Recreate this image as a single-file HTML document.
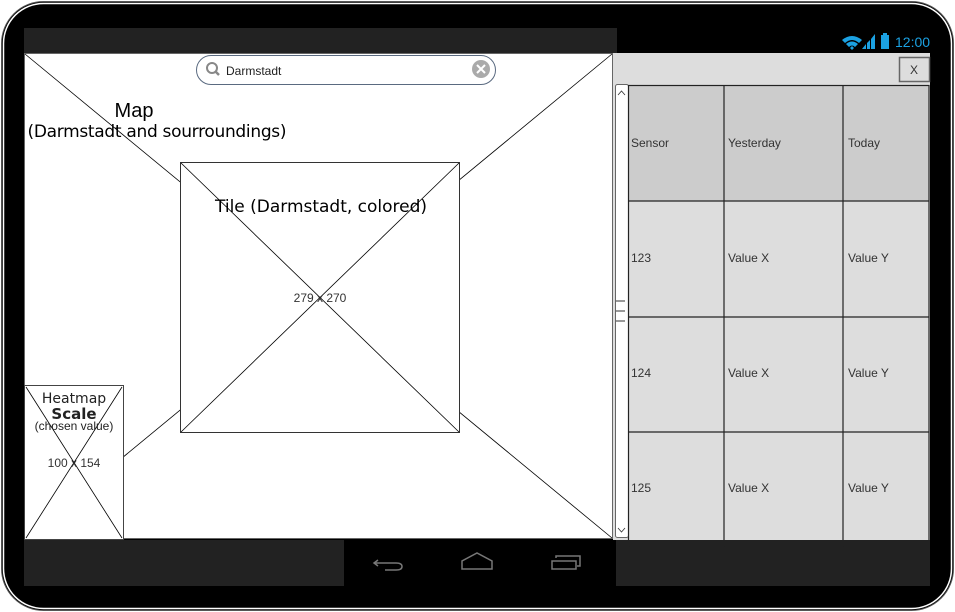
<!DOCTYPE html>
<html><head><meta charset="utf-8"><style>
html,body{margin:0;padding:0;background:#fff;}
svg{display:block;}
text{font-family:"Liberation Sans",sans-serif;}
.c{font-family:"Comic Sans MS","DejaVu Sans",sans-serif;}
</style></head><body>
<svg width="955" height="612" viewBox="0 0 955 612" xmlns="http://www.w3.org/2000/svg">
<rect x="0" y="0" width="955" height="612" fill="#fff"/>
<rect x="1.5" y="1.5" width="952" height="609" rx="42" fill="#000" stroke="#555" stroke-width="1"/>
<rect x="3.5" y="3.5" width="948" height="605" rx="40" fill="none" stroke="#fff" stroke-width="1.5"/>
<rect x="24" y="28" width="593" height="25" fill="#222"/>
<g fill="#1ba1e2">
<path d="M842 40 Q852 32 862 40 L859 43 Q852 37 845 43Z"/>
<path d="M846 44 Q852 39 858 44 L855 47 Q852 44 849 47Z"/>
<path d="M850 48 L852 46 L854 48 L852 50Z"/>
<polygon points="862,49 866,49 866,44"/><polygon points="867,49 870,49 870,40 867,43"/><polygon points="871,49 875,49 875,34 871,39"/>
<rect x="881" y="35" width="8" height="14"/><rect x="883" y="33" width="4" height="2"/>
<text x="895" y="47" font-size="14" fill="#1ba1e2">12:00</text>
</g>
<rect x="24" y="540" width="320" height="46" fill="#222"/>
<rect x="616" y="540" width="314" height="46" fill="#222"/>
<g fill="none" stroke="#777" stroke-width="1.5">
<path d="M378 560 L374 563 L378 566 M374 563 H396 Q402 563 402 566.5 Q402 570 396 570 H385"/>
<path d="M462 569 V561 L477 553 L492 561 V569 Z"/>
<path d="M552 561 H576 V569 H552Z M556 558 V556 H580 V566 H577"/>
</g>
<rect x="24.5" y="53.5" width="588" height="485" fill="#fff" stroke="#666"/>
<line x1="25" y1="54" x2="612" y2="538" stroke="#000" stroke-width="0.8"/>
<line x1="612" y1="54" x2="25" y2="538" stroke="#000" stroke-width="0.8"/>
<rect x="180.5" y="162.5" width="279" height="270" fill="#fff" stroke="#333"/>
<line x1="181" y1="163" x2="459" y2="432" stroke="#000" stroke-width="0.8"/>
<line x1="459" y1="163" x2="181" y2="432" stroke="#000" stroke-width="0.8"/>
<text x="320" y="302" font-size="12" fill="#333" text-anchor="middle">279 x 270</text>
<text class="c" x="321" y="212" font-size="17" fill="#000" text-anchor="middle" textLength="212">Tile (Darmstadt, colored)</text>
<text x="134" y="117" font-size="20" fill="#000" text-anchor="middle">Map</text>
<text class="c" x="157" y="137" font-size="17" fill="#000" text-anchor="middle" textLength="259">(Darmstadt and sourroundings)</text>
<rect x="24.5" y="385.5" width="99" height="154" fill="#fff" stroke="#444"/>
<line x1="26" y1="387" x2="122" y2="538" stroke="#000" stroke-width="0.8"/>
<line x1="122" y1="387" x2="26" y2="538" stroke="#000" stroke-width="0.8"/>
<text x="74" y="467" font-size="12" fill="#333" text-anchor="middle">100 x 154</text>
<text class="c" x="74" y="403" font-size="14" fill="#222" text-anchor="middle">Heatmap</text>
<text class="c" x="74" y="419" font-size="15" font-weight="bold" fill="#222" text-anchor="middle">Scale</text>
<text x="74" y="430" font-size="12" fill="#222" text-anchor="middle">(chosen value)</text>
<rect x="196.5" y="55.5" width="299" height="29" rx="14.5" fill="#fff" stroke="#5a6a80"/>
<circle cx="212" cy="68" r="5" fill="none" stroke="#888" stroke-width="2"/>
<line x1="215.5" y1="71.5" x2="219" y2="75" stroke="#888" stroke-width="2.5"/>
<text x="226" y="75" font-size="12" fill="#222">Darmstadt</text>
<circle cx="481" cy="69" r="9" fill="#aaa"/>
<path d="M477 65 L485 73 M485 65 L477 73" stroke="#fff" stroke-width="2"/>
<rect x="613" y="53" width="317" height="487" fill="#ddd"/>
<rect x="899.5" y="57.5" width="30" height="24" fill="#ddd" stroke="#666" stroke-width="1.5"/>
<text x="914" y="74" font-size="12" fill="#333" text-anchor="middle">X</text>
<rect x="615.5" y="84.5" width="13" height="453" rx="2" fill="#fff" stroke="#666"/>
<path d="M618 95 L621.5 91 L625 95" fill="none" stroke="#333" stroke-width="0.8"/>
<path d="M618 528 L621.5 532 L625 528" fill="none" stroke="#333" stroke-width="0.8"/>
<g stroke="#777" stroke-width="1.5"><line x1="616" y1="301" x2="625" y2="301"/><line x1="616" y1="311" x2="625" y2="311"/><line x1="616" y1="321" x2="625" y2="321"/></g>
<rect x="628" y="85" width="301" height="116" fill="#ccc"/>
<g stroke="#222" stroke-width="1.2" fill="none">
<rect x="628.5" y="85.5" width="300.5" height="462"/>
<line x1="724" y1="85" x2="724" y2="548"/>
<line x1="843" y1="85" x2="843" y2="548"/>
<line x1="628" y1="201" x2="929" y2="201"/>
<line x1="628" y1="317" x2="929" y2="317"/>
<line x1="628" y1="432" x2="929" y2="432"/>
</g>
<g font-size="12" fill="#333">
<text x="631" y="147">Sensor</text><text x="728" y="147">Yesterday</text><text x="848" y="147">Today</text>
<text x="631" y="262">123</text><text x="728" y="262">Value X</text><text x="848" y="262">Value Y</text>
<text x="631" y="377">124</text><text x="728" y="377">Value X</text><text x="848" y="377">Value Y</text>
<text x="631" y="492">125</text><text x="728" y="492">Value X</text><text x="848" y="492">Value Y</text>
</g>
</svg>
</body></html>
